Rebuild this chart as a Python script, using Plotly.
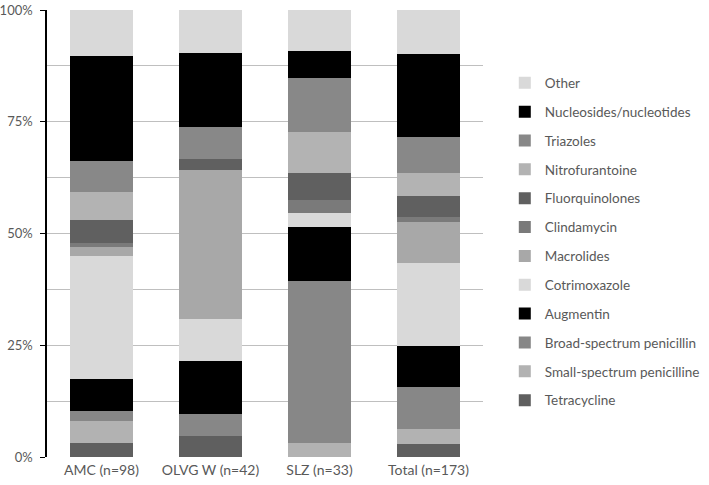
import plotly.graph_objects as go

categories = ["AMC (n=98)", "OLVG W (n=42)", "SLZ (n=33)", "Total (n=173)"]

# patient counts per drug class (stacked bottom -> top)
series_names = [
    "Tetracycline", "Small-spectrum penicilline", "Broad-spectrum penicillin",
    "Augmentin", "Cotrimoxazole", "Macrolides", "Clindamycin", "Fluorquinolones",
    "Nitrofurantoine", "Triazoles", "Nucleosides/nucleotides", "Other",
]
tetracycline = [3, 2, 0, 5]
small_spectrum = [5, 0, 1, 6]
broad_spectrum = [2, 2, 12, 16]
augmentin = [7, 5, 4, 16]
cotrimoxazole = [27, 4, 1, 32]
macrolides = [2, 14, 0, 16]
clindamycin = [1, 0, 1, 2]
fluorquinolones = [5, 1, 2, 8]
nitrofurantoine = [6, 0, 3, 9]
triazoles = [7, 3, 4, 14]
nucleosides = [23, 7, 2, 32]
other = [10, 4, 3, 17]

series_values = [
    tetracycline, small_spectrum, broad_spectrum, augmentin, cotrimoxazole,
    macrolides, clindamycin, fluorquinolones, nitrofurantoine, triazoles,
    nucleosides, other,
]
colors = [
    "#5f5f5f", "#b2b2b2", "#878787", "#000000", "#d9d9d9", "#a8a8a8",
    "#7a7a7a", "#606060", "#b3b3b3", "#888888", "#000000", "#d9d9d9",
]

tick_vals = [0, 25, 50, 75, 100]
tick_text = ["0%", "25%", "50%", "75%", "100%"]

fig = go.Figure()
for i, (name, vals, col) in enumerate(zip(series_names, series_values, colors)):
    fig.add_trace(go.Bar(
        x=categories, y=vals, name=name, legendgroup=name,
        legendrank=1000 - i,
        marker=dict(color=col, line=dict(width=0)),
    ))

font_family = "Lato, 'Open Sans', sans-serif"
fig.update_layout(
    width=709, height=485,
    barmode="stack", barnorm="percent", bargap=0.43,
    plot_bgcolor="white", paper_bgcolor="white",
    margin=dict(l=47, r=226, t=10, b=28, autoexpand=False),
    font=dict(family=font_family, size=14, color="#595959"),
    showlegend=True,
    legend=dict(
        traceorder="grouped", tracegroupgap=8.3,
        x=1.05, xanchor="left", y=0.482, yanchor="middle",
        font=dict(size=13.5, color="#595959"),
        itemwidth=30,
    ),
    xaxis=dict(
        showline=False, ticks="", automargin=False,
        ticklabelstandoff=3,
        tickfont=dict(size=14, color="#595959"),
    ),
    yaxis=dict(
        range=[0, 100], tickvals=tick_vals, ticktext=tick_text,
        showgrid=True, gridcolor="#bfbfbf", gridwidth=1,
        showline=True, linecolor="black", linewidth=1.5,
        ticks="outside", ticklen=5, tickcolor="black",
        zeroline=False, automargin=False, ticklabeloverflow="allow",
        ticklabelstandoff=5,
        minor=dict(dtick=12.5, tick0=0, showgrid=True, gridcolor="#bfbfbf", ticks=""),
        tickfont=dict(size=13, color="#595959"),
    ),
)

fig.write_html(
    "out.html",
    config={"displayModeBar": False},
    post_script="document.body.style.margin='0';document.body.style.padding='0';",
)
